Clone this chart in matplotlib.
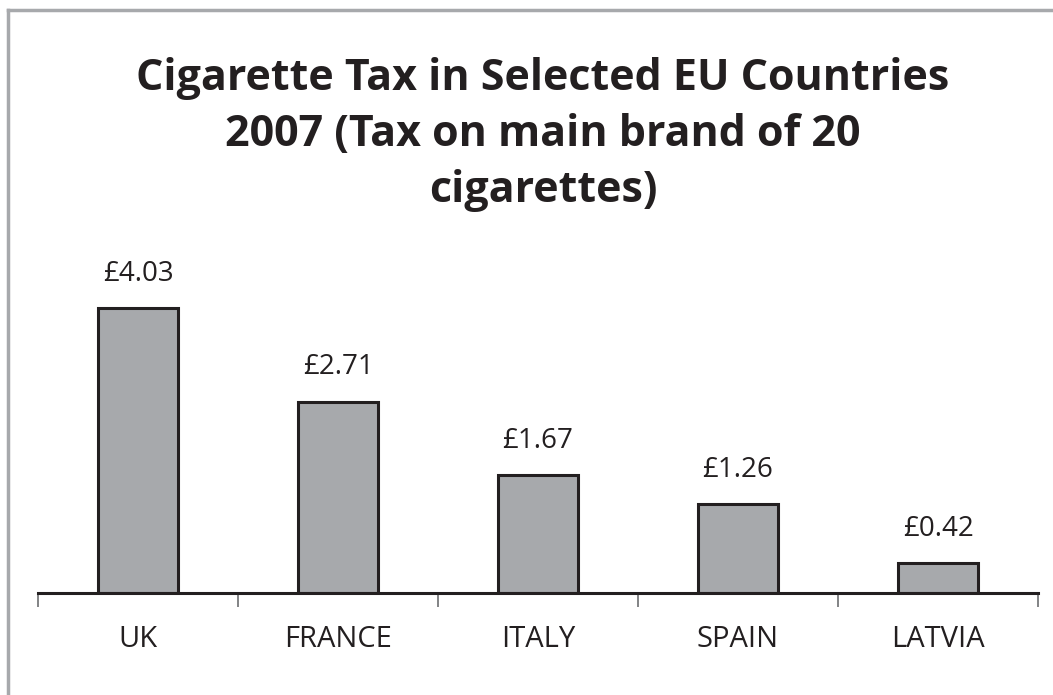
import matplotlib.pyplot as plt
import numpy as np
from matplotlib.lines import Line2D

countries = ["UK", "FRANCE", "ITALY", "SPAIN", "LATVIA"]
tax_gbp = [4.03, 2.71, 1.67, 1.26, 0.42]
title = "Cigarette Tax in Selected EU Countries\n2007 (Tax on main brand of 20\ncigarettes)"

W, H = 1053, 695
fig = plt.figure(figsize=(W / 100, H / 100), dpi=100)
fig.patch.set_facecolor("white")

# grey frame round the chart (runs off the right and bottom edges)
fig.add_artist(Line2D([8 / W, 1.0], [1 - 10 / H, 1 - 10 / H], color="#a7a9ac", lw=2.5, transform=fig.transFigure))
fig.add_artist(Line2D([8 / W, 8 / W], [0.0, 1 - 10 / H], color="#a7a9ac", lw=2.5, transform=fig.transFigure))

fig.text(543 / W, 1 - 57 / H, title, ha="center", va="top", fontsize=31, fontweight="bold",
         family="Open Sans", color="#231f20", linespacing=1.40)

ax = fig.add_axes([38 / W, 1 - 593 / H, 1000 / W, 353 / H])
x = np.arange(len(countries))
ax.bar(x, tax_gbp, width=0.4, color="#a7a9ac", edgecolor="#231f20", linewidth=2.2, zorder=2)
ax.set_xlim(-0.5, len(countries) - 0.5)
ax.set_ylim(0, 5)

for xi, v in zip(x, tax_gbp):
    ax.text(xi, v + 0.29, f"£{v:.2f}", ha="center", va="bottom", fontsize=20,
            family="Open Sans", color="#231f20")

for side in ("top", "right", "left"):
    ax.spines[side].set_visible(False)
ax.spines["bottom"].set_linewidth(2.2)
ax.spines["bottom"].set_color("#231f20")
ax.set_yticks([])

ax.set_xticks(np.arange(-0.5, len(countries)), minor=False)
ax.set_xticklabels([])
ax.tick_params(axis="x", which="major", length=10, width=1.2, color="#6d6e71")
ax.set_xticks(x, minor=True)
ax.set_xticklabels(countries, minor=True, fontsize=21, family="Open Sans", color="#231f20")
ax.tick_params(axis="x", which="minor", length=0, pad=23)

fig.savefig("out.png", dpi=100, facecolor="white")
